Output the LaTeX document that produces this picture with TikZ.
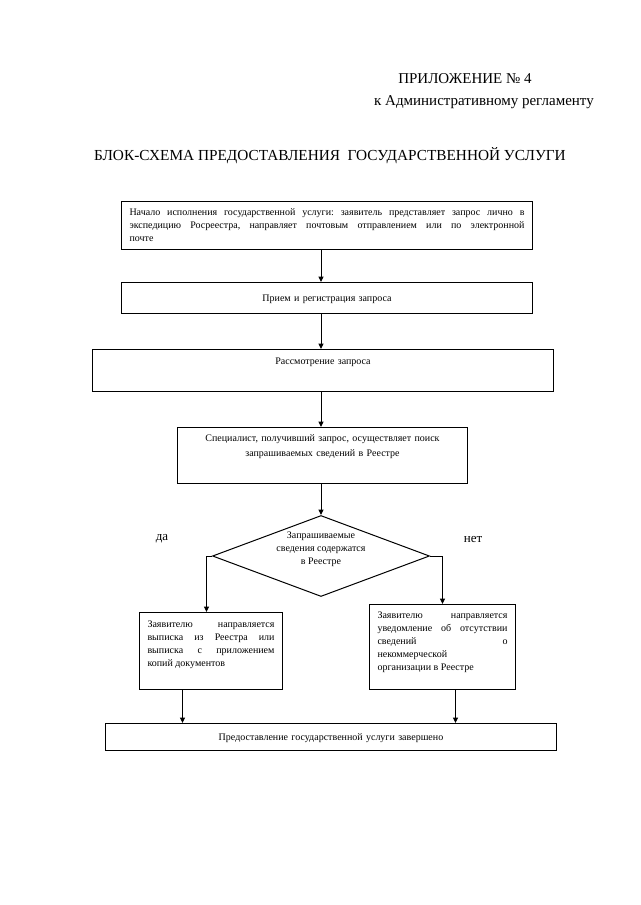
\documentclass[tikz,border=0pt]{standalone}
\usepackage{fontspec}
\setmainfont{Liberation Serif}
\usetikzlibrary{shapes.geometric,arrows.meta}
\hyphenpenalty=10000
\exhyphenpenalty=10000
\frenchspacing

\begin{document}
\begin{tikzpicture}[x=1pt, y=-1pt,
    box/.style={draw, line width=1pt, anchor=north west, inner xsep=8pt, inner ysep=4pt,
      font=\fontsize{10}{13}\selectfont},
    arr/.style={line width=1pt, -{Triangle[length=5.5pt,width=5pt]}},
    cond/.style={draw, diamond, line width=1pt, minimum width=217pt, minimum height=81pt, inner sep=0pt},
    head/.style={anchor=base, font=\fontsize{15}{17}\selectfont}]
  \useasboundingbox (0,0) rectangle (640,905);

  \node[head] (app) at (465,83) {ПРИЛОЖЕНИЕ №~4};
  \node[head] (reg) at (484,105) {к Административному регламенту};
  \node[head, font=\fontsize{15.3}{17}\selectfont] (title) at (330,160)
    {БЛОК-СХЕМА ПРЕДОСТАВЛЕНИЯ \ ГОСУДАРСТВЕННОЙ УСЛУГИ};

  \node[box, text width=395pt, text height=10pt, text depth=30pt, align=justify] (start) at (121,201)
    {Начало исполнения государственной услуги: заявитель представляет запрос лично в\linebreak
     экспедицию Росреестра, направляет почтовым отправлением или по электронной\linebreak почте};
  \node[box, text width=395pt, text height=15pt, text depth=8pt, align=center] (recv) at (121,282)
    {Прием и регистрация запроса\hspace*{16pt}};
  \node[box, text width=445pt, text height=11pt, text depth=23pt, align=center] (check) at (92,349)
    {Рассмотрение запроса};
  \node[box, text width=274pt, text height=10pt, text depth=38pt, align=center,
    font=\fontsize{10}{15}\selectfont] (search) at (177,427)
    {Специалист, получивший запрос, осуществляет поиск\\запрашиваемых сведений в Реестре};

  \node[cond] (found) at (321,556) {};
  \node[align=center, font=\fontsize{10}{13}\selectfont] (foundtxt) at ([yshift=7pt]found.center)
    {Запрашиваемые\\сведения содержатся\\в Реестре};
  \node[font=\fontsize{13}{15}\selectfont] (yes) at (162,539) {да};
  \node[font=\fontsize{13}{15}\selectfont] (no) at (473,539) {нет};

  \node[box, text width=127pt, text height=11pt, text depth=58pt, align=justify] (extract) at (139,612)
    {Заявителю направляется\linebreak выписка из Реестра или\linebreak выписка с приложением\linebreak копий документов};
  \node[box, text width=130pt, text height=10pt, text depth=67pt, align=justify] (notice) at (369,604)
    {Заявителю направляется\linebreak уведомление об отсутствии\linebreak сведений о\linebreak некоммерческой\newline организации в Реестре};

  \node[box, text width=435pt, text height=13pt, text depth=6pt, align=center] (done) at (105,723)
    {Предоставление государственной услуги завершено};

  \coordinate (axis) at (321,0);
  \draw[arr] (start.south -| axis) -- (recv.north -| axis);
  \draw[arr] (recv.south -| axis) -- (check.north -| axis);
  \draw[arr] (check.south -| axis) -- (search.north -| axis);
  \draw[arr] (search.south -| axis) -- (found.north);
  \draw[arr] (found.west) -| ([xshift=-4.5pt]extract.north);
  \draw[arr] (found.east) -| (notice.north);
  \draw[arr] ([xshift=-28.5pt]extract.south) -- ([xshift=-28.5pt]extract.south |- done.north);
  \draw[arr] ([xshift=13pt]notice.south) -- ([xshift=13pt]notice.south |- done.north);
\end{tikzpicture}
\end{document}
